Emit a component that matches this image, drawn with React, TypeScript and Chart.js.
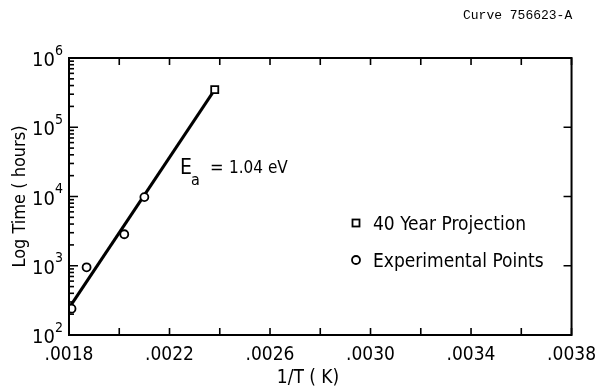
import React, { useEffect, useRef } from "react";
import { Chart, registerables } from "chart.js";

Chart.register(...registerables);

const FONT = '"DejaVu Sans Condensed", "Liberation Sans", Arial, sans-serif';

// Experimental points
const EXP_X = [0.00181, 0.00187, 0.00202, 0.0021];
const EXP_Y = [240, 950, 2850, 9800];
// 40 year projection
const PROJ_X = [0.00238];
const PROJ_Y = [350000];
// Fitted Arrhenius line (Ea = 1.04 eV)
const FIT_X = [0.0018, 0.00238];
const FIT_Y = [245, 350000];

const X_TICKS = [0.0018, 0.0022, 0.0026, 0.003, 0.0034, 0.0038];
const X_TICK_LABELS = [".0018", ".0022", ".0026", ".0030", ".0034", ".0038"];
const Y_DECADES = [100, 1000, 10000, 100000, 1000000];
const Y_EXPONENTS = ["2", "3", "4", "5", "6"];
const LEGEND_LABELS = ["40 Year Projection", "Experimental Points"];
const ANNOT_MAIN = "E";
const ANNOT_SUB = "a";
const ANNOT_EQ = "=";
const ANNOT_VALUE = "1.04 eV";
const CURVE_ID = "Curve 756623-A";
const X_TITLE = "1/T ( K)";
const Y_TITLE = "Log Time ( hours)";

const decorPlugin = {
  id: "decor",
  afterDatasetsDraw(chart: any) {
    const { ctx, chartArea: a, scales } = chart;
    const xs = scales.x;
    const ys = scales.y;
    ctx.save();
    ctx.strokeStyle = "#000";
    ctx.fillStyle = "#000";
    ctx.lineWidth = 2;
    ctx.strokeRect(a.left, a.top, a.right - a.left, a.bottom - a.top);

    // x ticks, inward, top and bottom
    ctx.lineWidth = 1.6;
    xs.ticks.forEach((t: any) => {
      const px = xs.getPixelForValue(t.value);
      ctx.beginPath();
      ctx.moveTo(px, a.bottom);
      ctx.lineTo(px, a.bottom - 7);
      ctx.moveTo(px, a.top);
      ctx.lineTo(px, a.top + 7);
      ctx.stroke();
    });

    // y ticks: left major + minor, right major
    Y_DECADES.forEach((d, i) => {
      const py = ys.getPixelForValue(d);
      ctx.beginPath();
      ctx.moveTo(a.left, py);
      ctx.lineTo(a.left + 9, py);
      ctx.moveTo(a.right, py);
      ctx.lineTo(a.right - 8, py);
      ctx.stroke();
      if (i < Y_DECADES.length - 1) {
        for (let k = 2; k <= 9; k++) {
          const pm = ys.getPixelForValue(d * k);
          ctx.beginPath();
          ctx.moveTo(a.left, pm);
          ctx.lineTo(a.left + 5, pm);
          ctx.stroke();
        }
      }
      // label 10^n
      ctx.textBaseline = "middle";
      ctx.textAlign = "right";
      ctx.font = `14px ${FONT}`;
      const ew = ctx.measureText(Y_EXPONENTS[i]).width;
      ctx.fillText(Y_EXPONENTS[i], 63, py - 7);
      ctx.font = `20px ${FONT}`;
      ctx.fillText("10", 63 - ew, py + 3);
    });

    // y title
    ctx.save();
    ctx.translate(20, (a.top + a.bottom) / 2);
    ctx.rotate(-Math.PI / 2);
    ctx.textAlign = "center";
    ctx.textBaseline = "middle";
    ctx.font = `18px ${FONT}`;
    ctx.fillText(Y_TITLE, 0, 0);
    ctx.restore();

    // x title
    ctx.textAlign = "center";
    ctx.textBaseline = "middle";
    ctx.font = `19px ${FONT}`;
    ctx.fillText(X_TITLE, 308, 378);

    // legend
    ctx.lineWidth = 1.8;
    ctx.strokeRect(352.5, 219.5, 7, 7);
    ctx.beginPath();
    ctx.arc(356, 260, 4, 0, Math.PI * 2);
    ctx.stroke();
    ctx.textAlign = "left";
    ctx.font = `19px ${FONT}`;
    ctx.fillText(LEGEND_LABELS[0], 373, 225);
    ctx.fillText(LEGEND_LABELS[1], 373, 262);

    // annotation
    ctx.textBaseline = "alphabetic";
    ctx.font = `21px ${FONT}`;
    ctx.fillText(ANNOT_MAIN, 180, 174);
    ctx.font = `16px ${FONT}`;
    ctx.fillText(ANNOT_SUB, 191, 185);
    ctx.font = `18px ${FONT}`;
    ctx.fillText(ANNOT_EQ, 210, 173);
    ctx.font = `17px ${FONT}`;
    ctx.fillText(ANNOT_VALUE, 229, 173);

    // curve id
    ctx.font = `13px "Liberation Mono", monospace`;
    ctx.textBaseline = "middle";
    ctx.fillText(CURVE_ID, 463, 16);

    ctx.restore();
  },
};

export default function App() {
  const ref = useRef<HTMLCanvasElement | null>(null);
  useEffect(() => {
    if (!ref.current) return;
    const toPts = (xs: number[], ys: number[]) => xs.map((x, i) => ({ x, y: ys[i] }));
    const chart = new Chart(ref.current, {
      type: "scatter",
      data: {
        datasets: [
          {
            label: "fit",
            data: toPts(FIT_X, FIT_Y),
            showLine: true,
            borderColor: "#000",
            borderWidth: 3,
            pointRadius: 0,
            order: 3,
          },
          {
            label: LEGEND_LABELS[1],
            data: toPts(EXP_X, EXP_Y),
            pointStyle: "circle",
            pointRadius: 4,
            borderWidth: 1.8,
            borderColor: "#000",
            backgroundColor: "#fff",
            order: 1,
          },
          {
            label: LEGEND_LABELS[0],
            data: toPts(PROJ_X, PROJ_Y),
            pointStyle: "rect",
            pointRadius: 5,
            borderWidth: 1.8,
            borderColor: "#000",
            backgroundColor: "#fff",
            order: 2,
          },
        ],
      },
      options: {
        animation: false,
        responsive: false,
        devicePixelRatio: 1,
        layout: { padding: { top: 58, right: 26, left: 0, bottom: 0 } },
        plugins: { legend: { display: false }, tooltip: { enabled: false } },
        scales: {
          x: {
            type: "linear",
            min: 0.0018,
            max: 0.0038,
            grid: { display: false, drawTicks: false },
            border: { display: false },
            ticks: {
              stepSize: 0.0002,
              autoSkip: false,
              maxRotation: 0,
              padding: 9,
              color: "#000",
              font: { family: FONT, size: 19 },
              callback: (v: any) => {
                const j = X_TICKS.findIndex((t) => Math.abs(t - Number(v)) < 1e-8);
                return j >= 0 ? X_TICK_LABELS[j] : "";
              },
            },
            afterFit: (s: any) => {
              s.height = 52;
            },
          },
          y: {
            type: "logarithmic",
            min: 100,
            max: 1000000,
            grid: { display: false, drawTicks: false },
            border: { display: false },
            ticks: { display: false },
            afterFit: (s: any) => {
              s.width = 69;
            },
          },
        },
      },
      plugins: [decorPlugin],
    } as any);
    return () => chart.destroy();
  }, []);
  return (
    <div style={{ position: "absolute", left: 0, top: 0, width: 605, height: 387, background: "#fff" }}>
      <canvas ref={ref} width={605} height={387} style={{ display: "block" }} />
    </div>
  );
}
